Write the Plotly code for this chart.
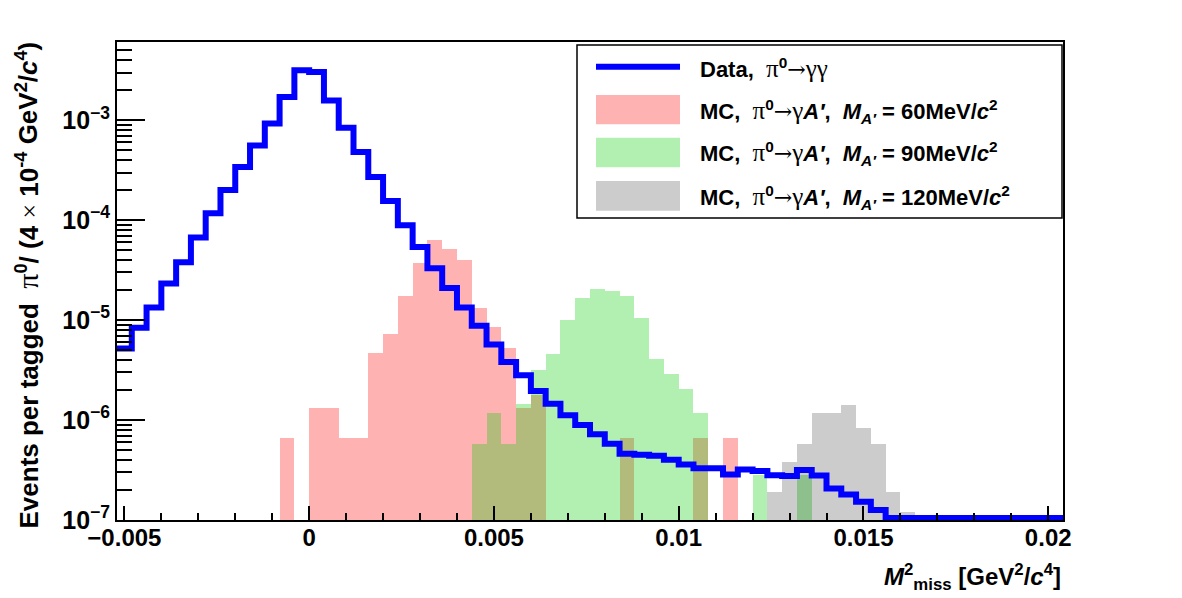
import numpy as np
import plotly.graph_objects as go

# ---------------- data (per-bin values, 64 bins of 4e-4 GeV^2/c^4) ----------------
x_min = -0.0052
bin_width = 0.0004
n_bins = 64

data_vals = [5.2e-6, 8.4e-6, 1.34e-5, 2.33e-5, 3.8e-5, 6.7e-5, 1.17e-4, 2.0e-4,
             3.4e-4, 5.6e-4, 9.3e-4, 1.71e-3, 3.16e-3, 3.04e-3, 1.58e-3, 8.4e-4,
             4.8e-4, 2.7e-4, 1.56e-4, 8.9e-5, 5.4e-5, 3.3e-5, 2.1e-5, 1.34e-5,
             8.8e-6, 5.7e-6, 3.8e-6, 2.8e-6, 1.95e-6, 1.46e-6, 1.12e-6, 8.9e-7,
             7.2e-7, 5.8e-7, 4.6e-7, 4.5e-7, 4.4e-7, 4.0e-7, 3.6e-7, 3.3e-7,
             3.3e-7, 2.86e-7, 3.2e-7, 3.1e-7, 2.8e-7, 2.75e-7, 3.16e-7, 2.78e-7,
             2.07e-7, 1.8e-7, 1.52e-7, 1.26e-7, 0, 0, 0, 0,
             0, 0, 0, 0, 0, 0, 0, 0]

mc60_bins = [11, 13, 14, 15, 16, 17, 18, 19, 20, 21, 22, 23, 24, 25, 26, 27, 28, 34, 39, 41]
mc60_vals = [6.65e-7, 1.33e-6, 1.33e-6, 6.65e-7, 6.65e-7, 4.68e-6, 7.3e-6, 1.74e-5,
             3.7e-5, 6.3e-5, 5.2e-5, 4.0e-5, 1.33e-5, 8.6e-6, 5.3e-6, 1.31e-6,
             1.78e-6, 6.65e-7, 6.65e-7, 6.65e-7]

mc90_bins = [24, 25, 26, 27, 28, 29, 30, 31, 32, 33, 34, 35, 36, 37, 38, 39, 43, 46]
mc90_vals = [5.8e-7, 1.17e-6, 5.8e-7, 1.45e-6, 3.16e-6, 4.6e-6, 1.0e-5, 1.65e-5,
             2.04e-5, 1.95e-5, 1.74e-5, 1.06e-5, 4.07e-6, 2.88e-6, 2.04e-6, 1.17e-6,
             2.8e-7, 2.8e-7]

mc120_bins = [44, 45, 46, 47, 48, 49, 50, 51, 52, 53]
mc120_vals = [1.92e-7, 3.83e-7, 5.7e-7, 1.19e-6, 1.19e-6, 1.41e-6, 8.4e-7, 5.7e-7,
              1.9e-7, 1.19e-7]

x_tick_vals = [-0.005, 0, 0.005, 0.01, 0.015, 0.02]
x_tick_text = ["\u22120.005", "0", "0.005", "0.01", "0.015", "0.02"]
y_tick_exps = [-7, -6, -5, -4, -3]

legend_labels = ["Data,", "MC,", "MC,", "MC,"]
mass_labels = ["60", "90", "120"]

# ---------------- derived ----------------
edges = x_min + bin_width * np.arange(n_bins + 1)
centers = edges[:-1] + bin_width / 2
x_max = edges[-1]
y_log_min, y_log_max = -7.0, -2.217
y_floor = 10 ** (y_log_min + 0.02)

RED = "rgba(255,0,0,0.3)"
GREEN = "rgba(0,204,0,0.3)"
GREY = "rgba(0,0,0,0.2)"
BLUE = "rgb(0,0,255)"

FONT = "Liberation Sans"
SERIF = "Liberation Serif"
ARROWFONT = "DejaVu Serif"


def g(s, size=None):
    sz = f";font-size:{size}px" if size else ""
    return f"<span style=\"font-family:'{SERIF}';font-weight:normal{sz}\">{s}</span>"


def arrow():
    return f"<span style=\"font-family:'{ARROWFONT}';font-weight:normal\">\u2192</span>"


fig = go.Figure()

for bins, vals, col in [(mc60_bins, mc60_vals, RED), (mc90_bins, mc90_vals, GREEN),
                        (mc120_bins, mc120_vals, GREY)]:
    fig.add_trace(go.Bar(x=[centers[b] for b in bins], y=vals, width=bin_width,
                         marker=dict(color=col, line=dict(width=0)),
                         showlegend=False, hoverinfo="skip"))

line_y = [max(v, y_floor) for v in data_vals]
fig.add_trace(go.Scatter(x=list(edges), y=line_y + [line_y[-1]], mode="lines",
                         line=dict(color=BLUE, width=6, shape="hv"),
                         showlegend=False, hoverinfo="skip"))

L, R, T, B = 117, 119, 42, 78
W, H = 1182, 598
pw, ph = W - L - R, H - T - B


def px(xpix):
    return (xpix - L) / pw


def py(ypix):
    return (H - B - ypix) / ph


fig.update_layout(
    width=W, height=H, autosize=False,
    margin=dict(l=L, r=R, t=T, b=B, pad=0),
    paper_bgcolor="white", plot_bgcolor="white",
    barmode="overlay", bargap=0,
    showlegend=False,
    font=dict(family=FONT, color="black"),
    xaxis=dict(range=[x_min, x_max], showgrid=False, zeroline=False,
               showline=True, linecolor="black", linewidth=2, mirror=True,
               ticks="inside", ticklen=14, tickwidth=1.5, tickcolor="black",
               tickmode="array", tickvals=x_tick_vals, ticktext=x_tick_text,
               ticklabelstandoff=-5,
               tickfont=dict(family=FONT, size=24, weight="bold", color="black"),
               minor=dict(ticks="inside", ticklen=7, tickwidth=1.5, tickcolor="black",
                          tick0=0, dtick=0.001)),
    yaxis=dict(type="log", range=[y_log_min, y_log_max], showgrid=False, zeroline=False,
               showline=True, linecolor="black", linewidth=2, mirror=True,
               ticks="inside", ticklen=28, tickwidth=1.5, tickcolor="black",
               tickmode="array", tickvals=[10.0 ** e for e in y_tick_exps],
               ticktext=[f"10<sup>\u2212{-e}</sup>" for e in y_tick_exps],
               tickfont=dict(family=FONT, size=25, weight="bold", color="black"),
               minor=dict(ticks="inside", ticklen=15, tickwidth=1.5, tickcolor="black",
                          dtick="D1")),
)

# axis titles
fig.add_annotation(
    xref="paper", yref="paper", x=1.0, y=py(596), xanchor="right", yanchor="bottom",
    showarrow=False,
    text="<i>M</i><sup>2</sup><sub>miss</sub> [GeV<sup>2</sup>/<i>c</i><sup>4</sup>]",
    font=dict(family=FONT, size=24, weight="bold", color="black"))

fig.add_annotation(
    xref="paper", yref="paper", x=px(27), y=py(40), xanchor="center", yanchor="top",
    textangle=-90, showarrow=False,
    text=("Events per tagged  " + g("\u03c0", 30) + "<sup>0</sup>/ (4 " + g("\u00d7")
          + " 10<sup>-4</sup> GeV<sup>2</sup>/<i>c</i><sup>4</sup>)"),
    font=dict(family=FONT, size=26, weight="bold", color="black"))

# legend box
fig.add_shape(type="rect", xref="paper", yref="paper", x0=px(577), x1=px(1062),
              y0=py(218), y1=py(45), line=dict(color="black", width=1.5),
              fillcolor="white", layer="above")
fig.add_shape(type="line", xref="paper", yref="paper", x0=px(596), x1=px(680),
              y0=py(66.7), y1=py(66.7), line=dict(color=BLUE, width=6), layer="above")
for (top, bot), col in zip([(95, 124.3), (137.7, 167.3), (181, 210.7)], [RED, GREEN, GREY]):
    fig.add_shape(type="rect", xref="paper", yref="paper", x0=px(596), x1=px(680),
                  y0=py(bot), y1=py(top), line=dict(width=0), fillcolor=col, layer="above")

row_y = [68, 111, 154, 197]
texts = [legend_labels[0] + "\u00a0 " + g("\u03c0", 25) + "<sup>0</sup>" + arrow()
         + g("\u03b3\u03b3", 25)]
for lab, m in zip(legend_labels[1:], mass_labels):
    texts.append(lab + "\u00a0 " + g("\u03c0", 25) + "<sup>0</sup>" + arrow() + g("\u03b3", 25)
                 + "<i>A\u2032</i>,\u00a0 <i>M</i><sub><i>A\u2032</i></sub> = " + m
                 + "MeV/<i>c</i><sup>2</sup>")
for ty, tx in zip(row_y, texts):
    fig.add_annotation(xref="paper", yref="paper", x=px(698), y=py(ty),
                       xanchor="left", yanchor="middle", showarrow=False, text=tx,
                       font=dict(family=FONT, size=22, weight="bold", color="black"))

fig.write_html("out.html")
